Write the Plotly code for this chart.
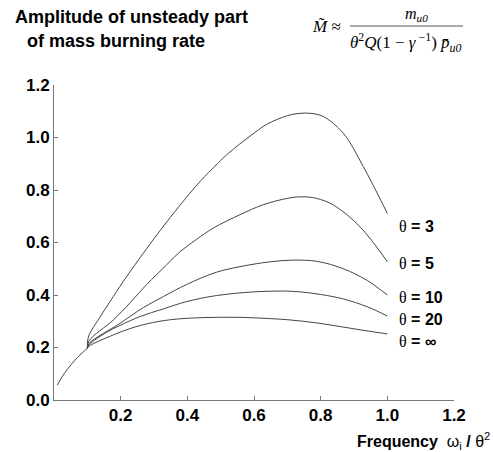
import plotly.graph_objects as go

# ---- data ----
common_x = [0.01, 0.025, 0.04, 0.055, 0.07, 0.085, 0.1]
common_y = [0.057, 0.09, 0.117, 0.14, 0.162, 0.18, 0.197]

t3_x = [0.1, 0.103, 0.14, 0.168, 0.208, 0.253, 0.318, 0.378, 0.438, 0.49, 0.528, 0.588, 0.638, 0.70, 0.738, 0.77, 0.808, 0.868, 0.928, 1.0]
t3_y = [0.197, 0.24, 0.32, 0.375, 0.452, 0.533, 0.645, 0.742, 0.832, 0.9, 0.945, 1.005, 1.05, 1.083, 1.092, 1.092, 1.08, 1.016, 0.889, 0.711]

t5_x = [0.1, 0.105, 0.178, 0.228, 0.278, 0.338, 0.378, 0.428, 0.478, 0.558, 0.628, 0.708, 0.75, 0.788, 0.838, 0.918, 1.0]
t5_y = [0.197, 0.225, 0.305, 0.37, 0.44, 0.515, 0.565, 0.612, 0.655, 0.706, 0.744, 0.77, 0.774, 0.768, 0.743, 0.66, 0.527]

t10_x = [0.1, 0.105, 0.198, 0.268, 0.328, 0.398, 0.488, 0.588, 0.66, 0.72, 0.79, 0.868, 0.94, 1.0]
t10_y = [0.197, 0.215, 0.292, 0.352, 0.394, 0.44, 0.487, 0.515, 0.528, 0.533, 0.528, 0.5, 0.455, 0.40]

t20_x = [0.1, 0.105, 0.158, 0.198, 0.258, 0.328, 0.398, 0.488, 0.588, 0.688, 0.738, 0.8, 0.868, 0.94, 1.0]
t20_y = [0.197, 0.21, 0.258, 0.284, 0.318, 0.347, 0.375, 0.398, 0.411, 0.415, 0.412, 0.402, 0.385, 0.355, 0.32]

tinf_x = [0.1, 0.105, 0.178, 0.228, 0.278, 0.35, 0.45, 0.55, 0.65, 0.708, 0.78, 0.858, 0.93, 1.0]
tinf_y = [0.197, 0.205, 0.248, 0.272, 0.29, 0.306, 0.314, 0.315, 0.31, 0.305, 0.295, 0.28, 0.265, 0.252]

series_labels = ["3", "5", "10", "20", "∞"]
label_y = [0.66, 0.52, 0.389, 0.305, 0.222]
label_x = 1.03

x_ticks = [0.2, 0.4, 0.6, 0.8, 1.0, 1.2]
x_ticktext = ["0.2", "0.4", "0.6", "0.8", "1.0", "1.2"]
y_ticks = [0.0, 0.2, 0.4, 0.6, 0.8, 1.0, 1.2]
y_ticktext = ["0.0", "0.2", "0.4", "0.6", "0.8", "1.0", "1.2"]

# ---- figure ----
W, H = 493, 452
ML, MR, MT, MB = 54, 39, 85, 52
PW, PH = W - ML - MR, H - MT - MB

def px(x):
    return (x - ML) / PW

def py(y):
    return (H - MB - y) / PH

LINE = dict(color="#454545", width=1, shape="spline", smoothing=1.0)
SANS = "Liberation Sans, Arial, sans-serif"
SERIF = "Liberation Serif, Times New Roman, serif"

fig = go.Figure()
fig.add_trace(go.Scatter(x=common_x, y=common_y, mode="lines", line=LINE, showlegend=False))
for xs, ys in [(t3_x, t3_y), (t5_x, t5_y), (t10_x, t10_y), (t20_x, t20_y), (tinf_x, tinf_y)]:
    fig.add_trace(go.Scatter(x=xs, y=ys, mode="lines", line=LINE, showlegend=False))

annotations = []
for lab, ly in zip(series_labels, label_y):
    annotations.append(dict(
        x=label_x, y=ly, xref="x", yref="y", xanchor="left", yanchor="middle",
        text='<span style="font-family:Liberation Serif;font-weight:normal">θ</span> = ' + lab,
        showarrow=False, font=dict(family=SANS, size=16, color="black", weight="bold")))

# title (two lines)
annotations.append(dict(x=px(13), y=py(17), xref="paper", yref="paper", xanchor="left", yanchor="middle",
                        text="Amplitude of unsteady part", showarrow=False,
                        font=dict(family=SANS, size=18, color="black", weight="bold")))
annotations.append(dict(x=px(25), y=py(41), xref="paper", yref="paper", xanchor="left", yanchor="middle",
                        text="of mass burning rate", showarrow=False,
                        font=dict(family=SANS, size=18, color="black", weight="bold")))

# formula
annotations.append(dict(x=px(310), y=py(26), xref="paper", yref="paper", xanchor="left", yanchor="middle",
                        text="<i>M̃</i> ≈", showarrow=False,
                        font=dict(family=SERIF, size=17, color="black")))
annotations.append(dict(x=px(416), y=py(15), xref="paper", yref="paper", xanchor="center", yanchor="middle",
                        text="<i>m<sub>u0</sub></i>", showarrow=False,
                        font=dict(family=SERIF, size=16, color="black")))
annotations.append(dict(x=px(406), y=py(42), xref="paper", yref="paper", xanchor="center", yanchor="middle",
                        text="<i>θ</i><sup>2</sup><i>Q</i>(1 − <i>γ</i><sup> −1</sup>) <i>p̄</i><sub><i>u0</i></sub>",
                        showarrow=False, font=dict(family=SERIF, size=17, color="black")))

# x-axis title
annotations.append(dict(x=px(492), y=py(441), xref="paper", yref="paper", xanchor="right", yanchor="middle",
                        text="<b>Frequency</b>  ω<sub>i</sub> <b>/</b> θ<sup>2</sup>", showarrow=False,
                        font=dict(family=SANS, size=16, color="black")))

fig.update_layout(
    width=W, height=H,
    margin=dict(l=ML, r=MR, t=MT, b=MB, pad=0),
    paper_bgcolor="white", plot_bgcolor="white",
    annotations=annotations,
    shapes=[dict(type="line", xref="paper", yref="paper", x0=px(350), x1=px(463), y0=py(26), y1=py(26),
                 line=dict(color="#555", width=1))],
    xaxis=dict(range=[0, 1.2], tickvals=x_ticks, ticktext=x_ticktext, showgrid=False, zeroline=False,
               showline=True, linecolor="#777", linewidth=1, ticks="inside", ticklen=4, tickcolor="#777",
               tickfont=dict(family=SANS, size=17, color="black", weight="bold")),
    yaxis=dict(range=[0, 1.2], tickvals=y_ticks, ticktext=y_ticktext, showgrid=False, zeroline=False,
               showline=True, linecolor="#777", linewidth=1, ticks="inside", ticklen=4, tickcolor="#777",
               tickfont=dict(family=SANS, size=17, color="black", weight="bold")),
)

fig.write_html("out.html")
